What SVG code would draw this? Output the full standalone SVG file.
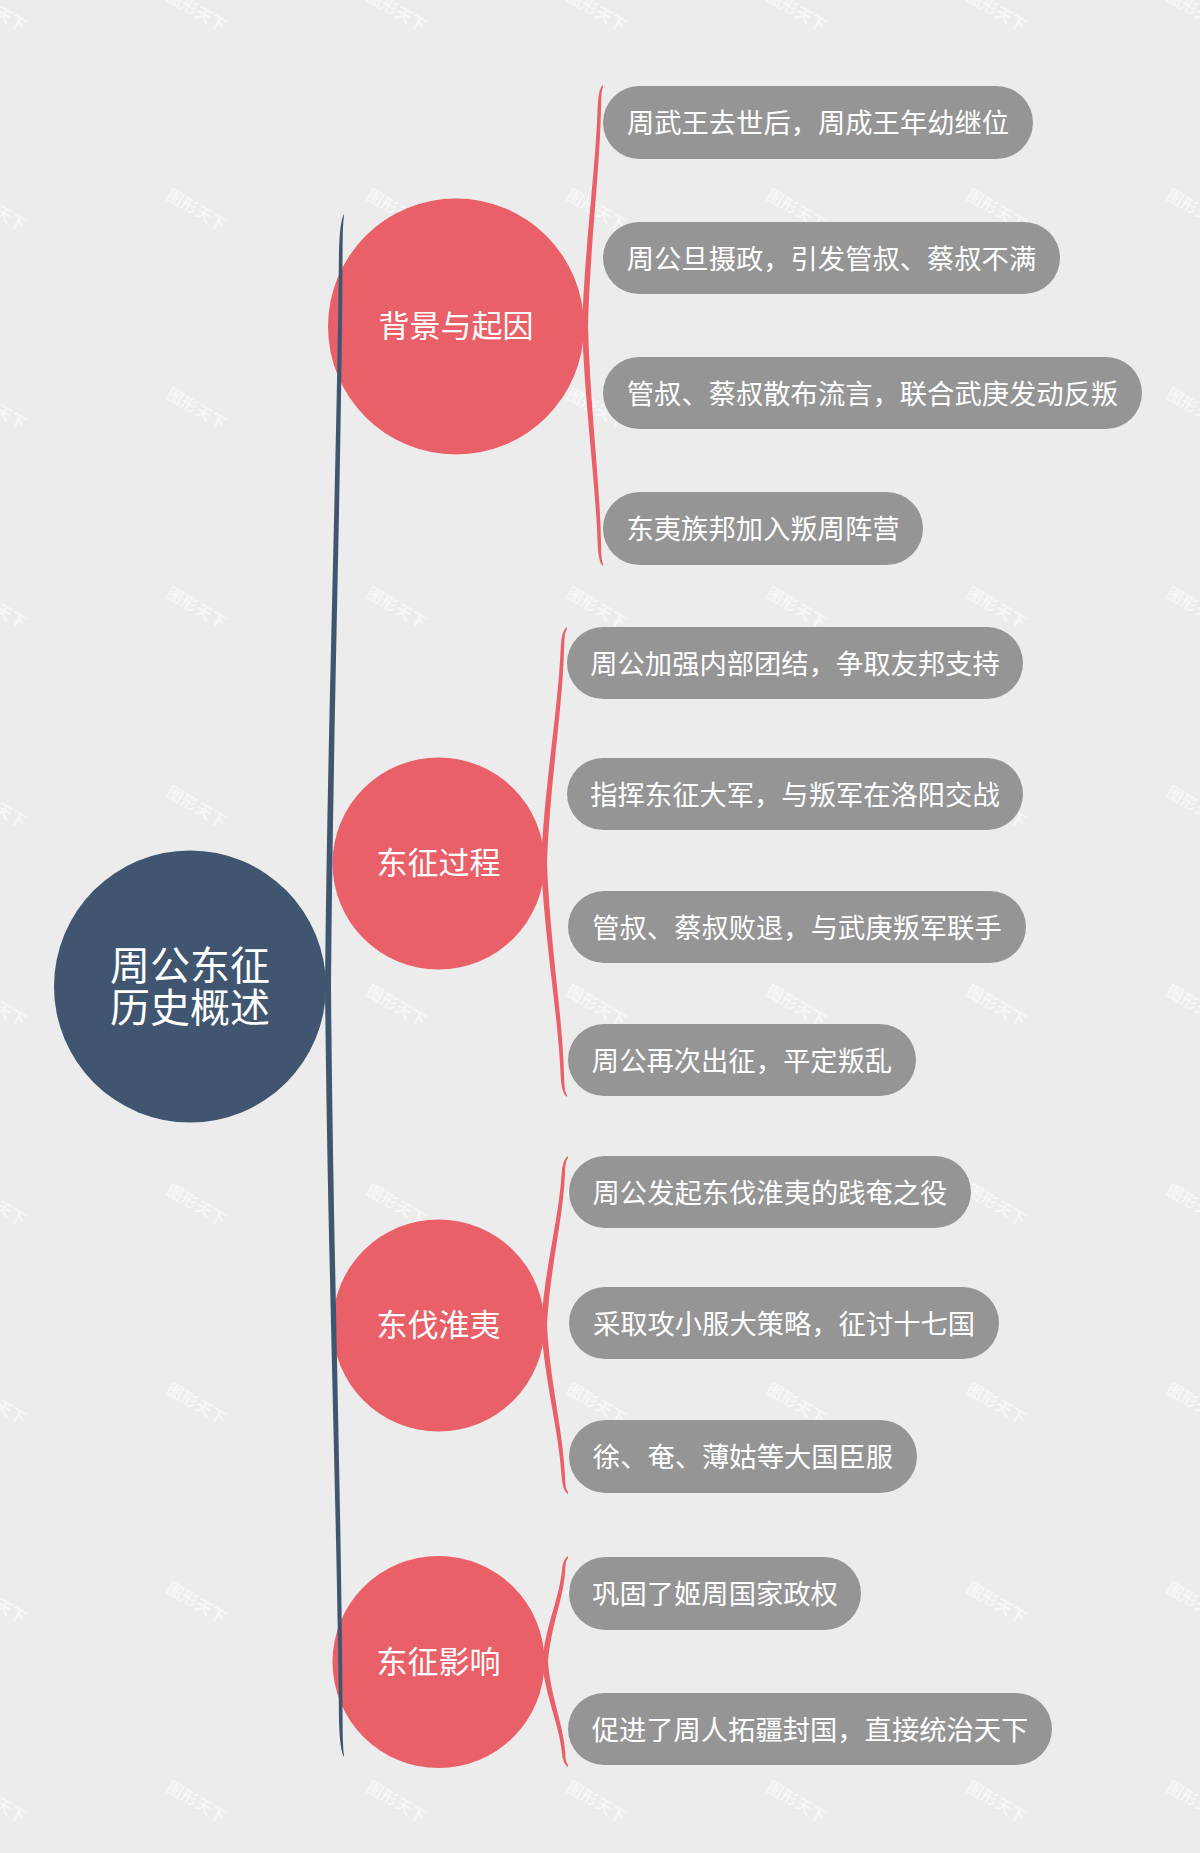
<svg xmlns="http://www.w3.org/2000/svg" xmlns:xlink="http://www.w3.org/1999/xlink" width="1200" height="1853" viewBox="0 0 1200 1853">
<style>
.bg{fill:#ececec}
.wm{font-family:"Noto Sans CJK SC","Noto Sans",sans-serif;font-size:16.5px;font-weight:bold;fill:#ffffff;fill-opacity:0.55}
.root{fill:#40556f}
.branch{fill:#ea6069}
.pill{fill:#959595}
.t{font-family:"Noto Sans CJK SC","Noto Sans",sans-serif;fill:#ffffff;text-anchor:middle;dominant-baseline:central}
.tr{font-size:40px}
.tb{font-size:31px}
.tl{font-size:27.3px}
.trunk{fill:#40556f}
.brace{fill:#ea6069}
</style>
<defs>
<text id="wm" class="wm" text-anchor="middle" dominant-baseline="central" transform="rotate(30)">图形天下</text>
</defs>
<rect class="bg" x="0" y="0" width="1200" height="1853"/>
<g id="watermarks">
<use xlink:href="#wm" transform="translate(-3 10)"/><use xlink:href="#wm" transform="translate(197 10)"/><use xlink:href="#wm" transform="translate(397 10)"/><use xlink:href="#wm" transform="translate(597 10)"/><use xlink:href="#wm" transform="translate(797 10)"/><use xlink:href="#wm" transform="translate(997 10)"/><use xlink:href="#wm" transform="translate(1197 10)"/>
<use xlink:href="#wm" transform="translate(-3 209)"/><use xlink:href="#wm" transform="translate(197 209)"/><use xlink:href="#wm" transform="translate(397 209)"/><use xlink:href="#wm" transform="translate(597 209)"/><use xlink:href="#wm" transform="translate(797 209)"/><use xlink:href="#wm" transform="translate(997 209)"/><use xlink:href="#wm" transform="translate(1197 209)"/>
<use xlink:href="#wm" transform="translate(-3 408)"/><use xlink:href="#wm" transform="translate(197 408)"/><use xlink:href="#wm" transform="translate(397 408)"/><use xlink:href="#wm" transform="translate(597 408)"/><use xlink:href="#wm" transform="translate(797 408)"/><use xlink:href="#wm" transform="translate(997 408)"/><use xlink:href="#wm" transform="translate(1197 408)"/>
<use xlink:href="#wm" transform="translate(-3 607)"/><use xlink:href="#wm" transform="translate(197 607)"/><use xlink:href="#wm" transform="translate(397 607)"/><use xlink:href="#wm" transform="translate(597 607)"/><use xlink:href="#wm" transform="translate(797 607)"/><use xlink:href="#wm" transform="translate(997 607)"/><use xlink:href="#wm" transform="translate(1197 607)"/>
<use xlink:href="#wm" transform="translate(-3 806)"/><use xlink:href="#wm" transform="translate(197 806)"/><use xlink:href="#wm" transform="translate(397 806)"/><use xlink:href="#wm" transform="translate(597 806)"/><use xlink:href="#wm" transform="translate(797 806)"/><use xlink:href="#wm" transform="translate(997 806)"/><use xlink:href="#wm" transform="translate(1197 806)"/>
<use xlink:href="#wm" transform="translate(-3 1005)"/><use xlink:href="#wm" transform="translate(197 1005)"/><use xlink:href="#wm" transform="translate(397 1005)"/><use xlink:href="#wm" transform="translate(597 1005)"/><use xlink:href="#wm" transform="translate(797 1005)"/><use xlink:href="#wm" transform="translate(997 1005)"/><use xlink:href="#wm" transform="translate(1197 1005)"/>
<use xlink:href="#wm" transform="translate(-3 1204)"/><use xlink:href="#wm" transform="translate(197 1204)"/><use xlink:href="#wm" transform="translate(397 1204)"/><use xlink:href="#wm" transform="translate(597 1204)"/><use xlink:href="#wm" transform="translate(797 1204)"/><use xlink:href="#wm" transform="translate(997 1204)"/><use xlink:href="#wm" transform="translate(1197 1204)"/>
<use xlink:href="#wm" transform="translate(-3 1403)"/><use xlink:href="#wm" transform="translate(197 1403)"/><use xlink:href="#wm" transform="translate(397 1403)"/><use xlink:href="#wm" transform="translate(597 1403)"/><use xlink:href="#wm" transform="translate(797 1403)"/><use xlink:href="#wm" transform="translate(997 1403)"/><use xlink:href="#wm" transform="translate(1197 1403)"/>
<use xlink:href="#wm" transform="translate(-3 1602)"/><use xlink:href="#wm" transform="translate(197 1602)"/><use xlink:href="#wm" transform="translate(397 1602)"/><use xlink:href="#wm" transform="translate(597 1602)"/><use xlink:href="#wm" transform="translate(797 1602)"/><use xlink:href="#wm" transform="translate(997 1602)"/><use xlink:href="#wm" transform="translate(1197 1602)"/>
<use xlink:href="#wm" transform="translate(-3 1801)"/><use xlink:href="#wm" transform="translate(197 1801)"/><use xlink:href="#wm" transform="translate(397 1801)"/><use xlink:href="#wm" transform="translate(597 1801)"/><use xlink:href="#wm" transform="translate(797 1801)"/><use xlink:href="#wm" transform="translate(997 1801)"/><use xlink:href="#wm" transform="translate(1197 1801)"/>
</g>

<g id="node-root">
<circle class="root" cx="190" cy="986.5" r="136"/>
<text class="t tr" x="190" y="962.5"><tspan x="190" y="962.5">周公东征</tspan><tspan x="190" y="1004.5">历史概述</tspan></text>
</g>

<g id="node-b1">
<circle class="branch" cx="456" cy="326.5" r="128"/>
<text class="t tb" x="456" y="323.5">背景与起因</text>
</g>
<g id="node-b2">
<circle class="branch" cx="438.5" cy="863.5" r="106"/>
<text class="t tb" x="438.5" y="860.5">东征过程</text>
</g>
<g id="node-b3">
<circle class="branch" cx="438.5" cy="1325.5" r="106"/>
<text class="t tb" x="438.5" y="1322.5">东伐淮夷</text>
</g>
<g id="node-b4">
<circle class="branch" cx="438.5" cy="1662" r="106"/>
<text class="t tb" x="438.5" y="1659.5">东征影响</text>
</g>

<g id="node-b1-1"><rect class="pill" x="603" y="86" width="430" height="73" rx="36.5"/><text class="t tl" x="818" y="121">周武王去世后，周成王年幼继位</text></g>
<g id="node-b1-2"><rect class="pill" x="603" y="222" width="457" height="72" rx="36"/><text class="t tl" x="831.5" y="256.5">周公旦摄政，引发管叔、蔡叔不满</text></g>
<g id="node-b1-3"><rect class="pill" x="603" y="357" width="539" height="72" rx="36"/><text class="t tl" x="872.5" y="391.5">管叔、蔡叔散布流言，联合武庚发动反叛</text></g>
<g id="node-b1-4"><rect class="pill" x="603" y="492" width="320" height="73" rx="36.5"/><text class="t tl" x="763" y="527">东夷族邦加入叛周阵营</text></g>

<g id="node-b2-1"><rect class="pill" x="567" y="627" width="456" height="72" rx="36"/><text class="t tl" x="795" y="661.5">周公加强内部团结，争取友邦支持</text></g>
<g id="node-b2-2"><rect class="pill" x="567" y="758" width="456" height="72" rx="36"/><text class="t tl" x="795" y="792.5">指挥东征大军，与叛军在洛阳交战</text></g>
<g id="node-b2-3"><rect class="pill" x="568" y="891" width="458" height="72" rx="36"/><text class="t tl" x="797" y="925.5">管叔、蔡叔败退，与武庚叛军联手</text></g>
<g id="node-b2-4"><rect class="pill" x="568" y="1024" width="348" height="72" rx="36"/><text class="t tl" x="742" y="1058.5">周公再次出征，平定叛乱</text></g>

<g id="node-b3-1"><rect class="pill" x="569" y="1156" width="402" height="72" rx="36"/><text class="t tl" x="770" y="1190.5">周公发起东伐淮夷的践奄之役</text></g>
<g id="node-b3-2"><rect class="pill" x="569" y="1287" width="430" height="72" rx="36"/><text class="t tl" x="784" y="1321.5">采取攻小服大策略，征讨十七国</text></g>
<g id="node-b3-3"><rect class="pill" x="569" y="1420" width="348" height="73" rx="36.5"/><text class="t tl" x="743" y="1455">徐、奄、薄姑等大国臣服</text></g>

<g id="node-b4-1"><rect class="pill" x="569" y="1557" width="292" height="73" rx="36.5"/><text class="t tl" x="715" y="1592">巩固了姬周国家政权</text></g>
<g id="node-b4-2"><rect class="pill" x="568" y="1693" width="484" height="72" rx="36"/><text class="t tl" x="810" y="1727.5">促进了周人拓疆封国，直接统治天下</text></g>

<g id="connectors">
<path class="trunk" d="M 325 986 C 327.6 716, 336.8 471, 339 250 Q 339.9 221 344 214 L 344 216 Q 342.7 223 342.6 250 C 341.6 471, 333.2 716, 331 986 Z"/>
<path class="trunk" d="M 325 986 C 327.6 1255.5, 336.8 1500.5, 339 1721 Q 339.9 1751 344 1757 L 344 1755 Q 342.7 1749 342.6 1721 C 341.6 1500.5, 333.2 1255.5, 331 986 Z"/>

<path class="brace" d="M 582 326 C 585.1 242, 595.4 172, 597.7 106 Q 598.5 88 603 85 L 603 87 Q 601.1 91 601.1 106 C 599.8 172, 590.3 242, 588 326 Z"/>
<path class="brace" d="M 582 326 C 585.1 409.7, 595.4 479.3, 597.7 545 Q 598.5 563 603 566 L 603 564 Q 601.1 560 601.1 545 C 599.8 479.3, 590.3 409.7, 588 326 Z"/>

<path class="brace" d="M 541 863 C 544.9 780.8, 557.9 712.5, 560.7 648 Q 561.6 630 567 627 L 567 629 Q 564.2 632 564.1 648 C 562.3 712.5, 550.1 780.8, 547 863 Z"/>
<path class="brace" d="M 541 863 C 544.9 944.6, 557.9 1012.1, 560.7 1076 Q 561.6 1094 567 1097 L 567 1095 Q 564.2 1092 564.1 1076 C 562.3 1012.1, 550.1 944.6, 547 863 Z"/>

<path class="brace" d="M 541 1325 C 545 1266.2, 558.6 1220, 561.5 1175 Q 562.4 1159 568 1156 L 568 1158 Q 565 1161 564.9 1175 C 563 1220, 550.2 1266.2, 547 1325 Z"/>
<path class="brace" d="M 541 1325 C 545 1383.8, 558.6 1430, 561.5 1475 Q 562.4 1491 568 1494 L 568 1492 Q 565 1489 564.9 1475 C 563 1430, 550.2 1383.8, 547 1325 Z"/>

<path class="brace" d="M 542 1662 C 545.9 1625.3, 558.9 1599, 561.7 1572 Q 562.6 1559 568 1556 L 568 1558 Q 565.2 1561 565.1 1572 C 563.3 1599, 551.1 1625.3, 548 1662 Z"/>
<path class="brace" d="M 542 1662 C 545.9 1698.4, 558.9 1724.3, 561.7 1751 Q 562.6 1764 568 1767 L 568 1765 Q 565.2 1762 565.1 1751 C 563.3 1724.3, 551.1 1698.4, 548 1662 Z"/>
</g>
</svg>
